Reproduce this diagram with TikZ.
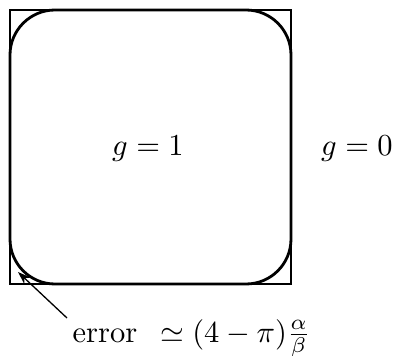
\documentclass[tikz,border=0pt]{standalone}
\usetikzlibrary{arrows.meta}
\begin{document}
\begin{tikzpicture}[x=1pt,y=-1pt,
  big/.style={scale=3.05, inner sep=0pt},
  sq/.style={line width=1.5pt},
  rsq/.style={line width=2.8pt, rounded corners=45pt},
  pointer/.style={line width=1.3pt, -{Stealth[length=13pt,width=9pt]}}]
\useasboundingbox (0,0) rectangle (397,356);
\draw[sq] (10,10) rectangle (291,284);
\draw[rsq] (10,10) rectangle (291,284);
\node[big, anchor=base] (g1) at (148,155) {$g=1$};
\node[big, anchor=base] (g0) at (357,155) {$g=0$};
\node[big, anchor=base west] (err) at (72,342) {error\hspace{0.75em}$\simeq(4-\pi)\frac{\alpha}{\beta}$};
\coordinate (tail) at (67,318);
\coordinate (tip) at (18,272);
\draw[pointer] (tail) -- (tip);
\end{tikzpicture}
\end{document}
